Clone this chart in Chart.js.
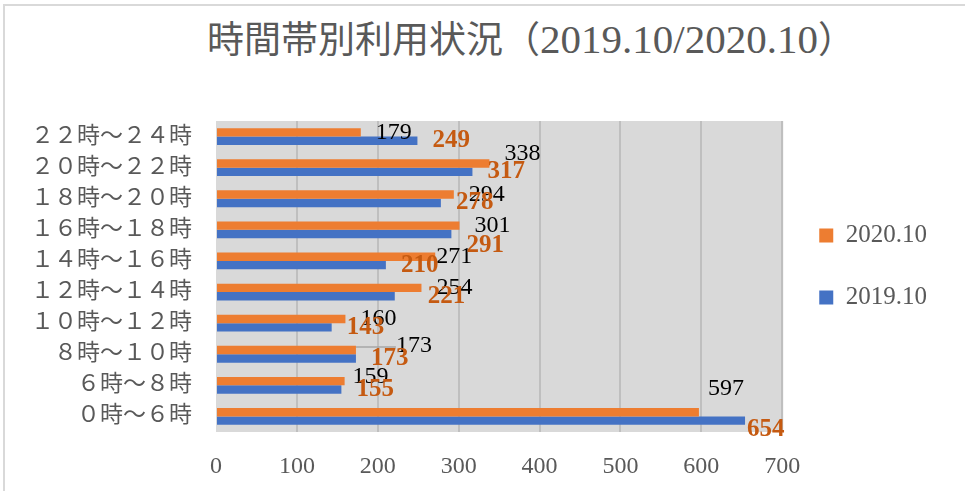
<!DOCTYPE html>
<html>
<head>
<meta charset="utf-8">
<script src="https://cdn.jsdelivr.net/npm/chart.js@4.4.1/dist/chart.umd.min.js"></script>
<style>
  html, body { margin: 0; padding: 0; background: #fff; overflow: hidden; }
  #wrap { position: relative; width: 965px; height: 491px; overflow: hidden; }
  #frame { position: absolute; left: 3px; top: 4px; width: 1000px; height: 600px; border: 2px solid #d9d9d9; }
  #title {
    position: absolute; left: 207px; top: 21px; white-space: nowrap;
    font: 37px/37px "Liberation Serif", "Noto Sans CJK JP"; color: #595959;
  }
  #title .num { font-size: 41px; }
  canvas { position: absolute; left: 0; top: 0; }
</style>
</head>
<body>
<div id="wrap">
  <div id="frame"></div>
  <div id="title">時間帯別利用状況（<span class="num">2019.10/2020.10</span>）</div>
  <canvas id="usageChart" width="965" height="491"></canvas>
</div>
<script>
// ---- data ----
const categories = [
  "２２時～２４時", "２０時～２２時", "１８時～２０時", "１６時～１８時", "１４時～１６時",
  "１２時～１４時", "１０時～１２時", "８時～１０時", "６時～８時", "０時～６時",
];
const seriesNames = ["2020.10", "2019.10"];
const values2020 = [179, 338, 294, 301, 271, 254, 160, 173, 159, 597];
const values2019 = [249, 317, 278, 291, 210, 221, 143, 173, 155, 654];
const xTicks = [0, 100, 200, 300, 400, 500, 600, 700];

// ---- styles ----
const SERIF = '"Liberation Serif", "Noto Sans CJK JP"';
const BAR_COLORS = ["#ed7d31", "#4472c4"];
const LABEL_STYLE = [
  { color: "#000000", font: "24px " + SERIF },
  { color: "#c55a11", font: "bold 25px " + SERIF },
];
// labels that were dragged off their default spot: "dataset:index" -> [dx, dy, leader line]
const LABEL_NUDGE = {
  "0:1": [0, -10],
  "0:4": [-14, 0],
  "0:7": [25, -4, true],
  "0:8": [-7, -4],
  "0:9": [-6, -24],
  "1:3": [0, 11],
  "1:5": [18, 0],
  "1:9": [-13, 9],
};

// plot area background
const plotBg = {
  id: "plotBg",
  beforeDraw(chart) {
    const { ctx, chartArea: a } = chart;
    ctx.save();
    ctx.fillStyle = "#d9d9d9";
    ctx.fillRect(a.left, a.top, a.right - a.left + 1, a.bottom - a.top);
    ctx.restore();
  },
};

// value labels at the end of each bar
const barLabels = {
  id: "barLabels",
  afterDatasetsDraw(chart) {
    const ctx = chart.ctx;
    chart.data.datasets.forEach((ds, i) => {
      const style = LABEL_STYLE[i];
      chart.getDatasetMeta(i).data.forEach((bar, j) => {
        const [dx, dy, leader] = LABEL_NUDGE[i + ":" + j] || [0, 0];
        const x = bar.x + 15 + dx;
        const y = bar.y + dy;
        ctx.save();
        if (leader) {
          ctx.strokeStyle = "#a6a6a6";
          ctx.lineWidth = 1.5;
          ctx.beginPath();
          ctx.moveTo(bar.x, bar.y - 3);
          ctx.lineTo(x, bar.y - 3);
          ctx.stroke();
        }
        ctx.font = style.font;
        ctx.fillStyle = style.color;
        ctx.textAlign = "left";
        ctx.textBaseline = "middle";
        ctx.fillText(String(ds.data[j]), x, y);
        ctx.restore();
      });
    });
  },
};

// move the legend up a little, like the original
const legendNudge = {
  id: "legendNudge",
  afterLayout(chart) {
    chart.legend.top -= 10;
    chart.legend.bottom -= 10;
  },
};

new Chart(document.getElementById("usageChart"), {
  type: "bar",
  data: {
    labels: categories,
    datasets: [
      { label: seriesNames[0], data: values2020, backgroundColor: BAR_COLORS[0] },
      { label: seriesNames[1], data: values2019, backgroundColor: BAR_COLORS[1] },
    ],
  },
  options: {
    indexAxis: "y",
    responsive: false,
    animation: false,
    categoryPercentage: 0.54,
    barPercentage: 1,
    layout: { padding: { top: 121, right: 28, bottom: 0, left: 0 } },
    scales: {
      x: {
        min: 0,
        max: 700,
        afterBuildTicks: (s) => { s.ticks = xTicks.map((v) => ({ value: v })); },
        afterFit: (s) => { s.height = 59; },
        grid: {
          color: (c) => (c.tick && c.tick.value === 0 ? "rgba(0,0,0,0)" : "#bfbfbf"),
          lineWidth: 2,
          drawTicks: false,
        },
        border: { display: false },
        ticks: { color: "#595959", font: { family: SERIF, size: 24 }, padding: 20 },
      },
      y: {
        afterFit: (s) => { s.width = 216; },
        grid: { display: false, drawTicks: false },
        border: { display: false },
        ticks: { color: "#595959", font: { family: SERIF, size: 23 }, padding: 24 },
      },
    },
    plugins: {
      legend: {
        position: "right",
        fullSize: false,
        labels: {
          boxWidth: 14,
          boxHeight: 14,
          padding: 37,
          color: "#595959",
          font: { family: SERIF, size: 25 },
        },
      },
      tooltip: { enabled: false },
    },
  },
  plugins: [plotBg, barLabels, legendNudge],
});
</script>
</body>
</html>
